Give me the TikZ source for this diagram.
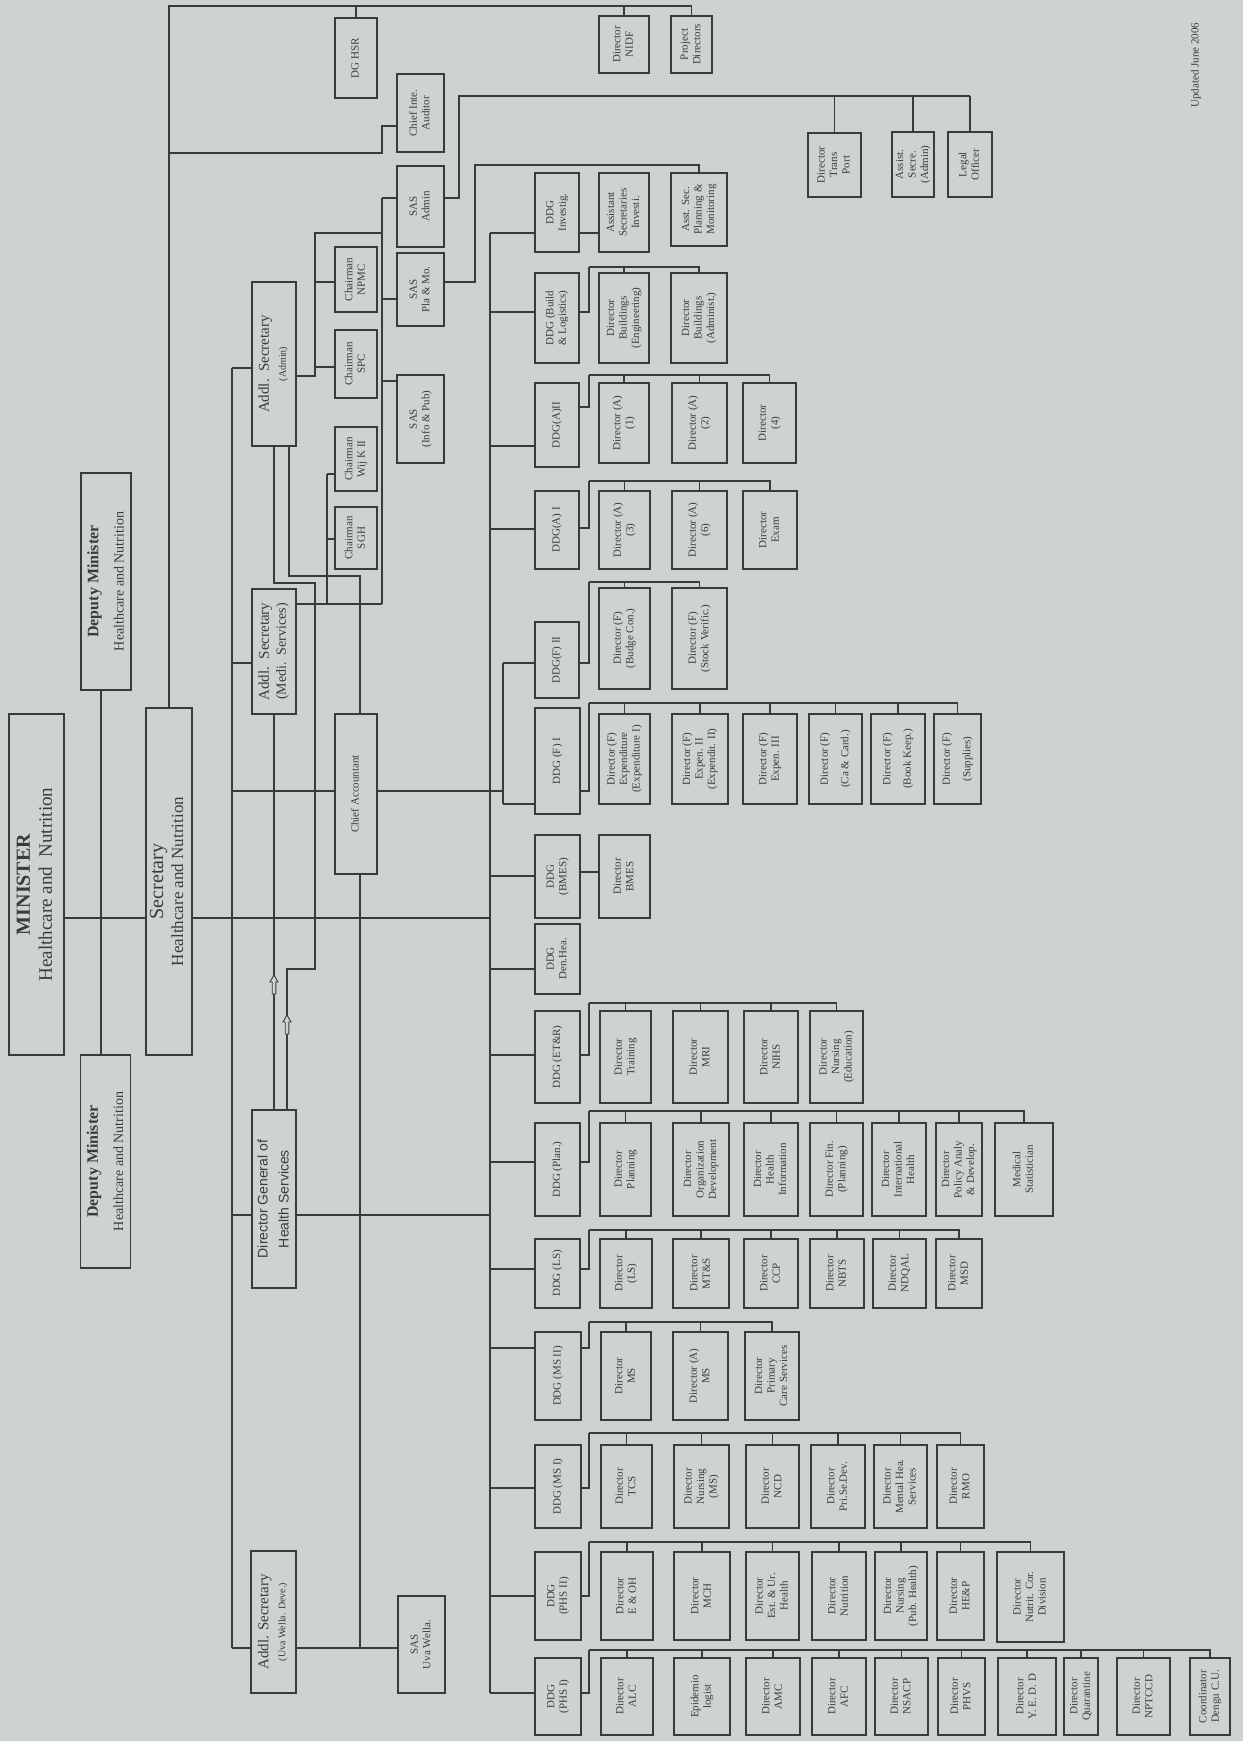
\documentclass[tikz,border=0pt]{standalone}
\usepackage{fontspec}
\setmainfont{Liberation Serif}
\newfontfamily\arialf{Liberation Sans}
\usepackage{graphicx}
\definecolor{bg}{RGB}{205,212,207}
\definecolor{ink}{RGB}{58,60,58}
\newcommand{\rtx}[1]{\rotatebox{90}{\begin{tabular}{@{}c@{}}#1\end{tabular}}}
\newcommand{\bxx}[7][]{%
  \node[box,#1,minimum width={(#5)-(#3)},minimum height={(#6)-(#4)}] (#2) at ({((#3)+(#5))/2},{((#4)+(#6))/2}) {\rtx{#7}};}
\newcommand{\famln}[4]{%
  \draw (#1.east |- 0,#2) -- (589,#2) -- (589,#3);
  \foreach \c in {#4} {\draw (\c.north) -- (\c.north |- 0,#3) -- (589,#3);}}
\newcommand{\harr}[2]{\draw[fill=bg, line width=0.9pt] (#1,#2) -- ++(4,7) -- ++(-2.2,0) -- ++(0,12) -- ++(-3.6,0) -- ++(0,-12) -- ++(-2.2,0) -- cycle;}
\begin{document}
\begin{tikzpicture}[x=1pt,y=-1pt,line width=1.2pt,draw=ink,
  box/.style={draw=ink,fill=bg,line width=1.3pt,inner sep=0pt,text=ink,font=\fontsize{11}{12.5}\selectfont}]
\fill[bg] (0,0) rectangle (1243,1741);
\useasboundingbox (0,0) rectangle (1243,1741);

% ---- top level
\bxx[font=\fontsize{19}{22}\selectfont]{min}{9}{714}{64}{1055}{{\bfseries\fontsize{20}{22}\selectfont MINISTER}\\Healthcare and\ \ Nutrition}
\bxx[font=\fontsize{17}{20}\selectfont]{sec}{146}{708}{192}{1055}{{\fontsize{20}{22}\selectfont Secretary}\\Healthcare and Nutrition}
\bxx[font=\fontsize{14}{25}\selectfont]{dm1}{83}{473}{129}{690}{{\bfseries\fontsize{16}{18}\selectfont Deputy Minister}\\Healthcare and Nutrition}
\bxx[font=\fontsize{14}{25}\selectfont]{dm2}{82}{1055}{129}{1268}{{\bfseries\fontsize{16}{18}\selectfont Deputy Minister}\\Healthcare and Nutrition}

% ---- second level
\bxx[font=\fontsize{15}{17}\selectfont]{adm}{252}{282}{296}{446}{Addl.\ \ Secretary\\{\fontsize{10}{11}\selectfont (Admin)}}
\bxx[font=\fontsize{15}{17}\selectfont]{medi}{252}{589}{296}{714}{Addl.\ \ Secretary\\{\fontsize{14}{15}\selectfont (Medi.\ \ Services)}}
\bxx[font=\arialf\fontsize{14}{21}\selectfont]{dghs}{252}{1110}{296}{1288}{Director General of\\Health Services}
\bxx[font=\fontsize{15}{17}\selectfont]{uva}{251}{1551}{296}{1693}{Addl. Secretary\\{\fontsize{10}{11}\selectfont (Uva Wella. Deve.)}}
\bxx{cacc}{335}{714}{377}{874}{Chief Accountant}
\bxx{sasuva}{398}{1596}{445}{1693}{SAS\\Uva Wella.}

\bxx{dghsr}{335}{18}{377}{98}{DG HSR}
\bxx{nidf}{599}{16}{649}{73}{Director\\NIDF}
\bxx{pd}{671}{16}{712}{73}{Project\\Directors}
\bxx{cia}{397}{74}{444}{152}{Chief Inte.\\Auditor}
\bxx{sasadm}{397}{166}{444}{247}{SAS\\Admin}
\bxx{saspla}{397}{253}{444}{326}{SAS\\Pla \& Mo.}
\bxx{sasinfo}{397}{375}{444}{463}{SAS\\(Info \& Pub)}
\bxx{npmc}{335}{247}{377}{312}{Chairman\\NPMC}
\bxx{spc}{335}{330}{377}{398}{Chairman\\SPC}
\bxx{wijk}{335}{427}{377}{491}{Chairman\\Wij K II}
\bxx{sgh}{335}{507}{377}{569}{Chairman\\SGH}
\bxx{tp}{808}{133}{861}{197}{Director\\Trans\\Port}
\bxx{asa}{892}{132}{934}{197}{Assist.\\Secre.\\(Admin)}
\bxx{lo}{948}{132}{992}{197}{Legal\\Officer}

% ---- DDGs
\bxx{ddginv}{535}{173}{579}{252}{DDG\\Investig.}
\bxx{ddgbl}{535}{273}{579}{363}{DDG (Build\\\& Logistics)}
\bxx{ddga2}{535}{383}{579}{467}{DDG(A)II}
\bxx{ddga1}{535}{491}{579}{569}{DDG(A) I}
\bxx{ddgf2}{535}{622}{579}{698}{DDG(F) II}
\bxx{ddgf1}{535}{708}{580}{814}{DDG (F) I}
\bxx{ddgbm}{535}{835}{580}{918}{DDG\\(BMES)}
\bxx{ddgdh}{535}{924}{580}{994}{DDG\\Den.Hea.}
\bxx{ddget}{535}{1011}{580}{1103}{DDG (ET\&R)}
\bxx{ddgpl}{535}{1123}{580}{1216}{DDG (Plan.)}
\bxx{ddgls}{535}{1239}{580}{1308}{DDG (LS)}
\bxx{ddgm2}{535}{1332}{581}{1420}{DDG (MS II)}
\bxx{ddgm1}{535}{1445}{581}{1528}{DDG (MS I)}
\bxx{ddgp2}{535}{1552}{581}{1640}{DDG\\(PHS II)}
\bxx{ddgp1}{535}{1658}{581}{1735}{DDG\\(PHS I)}

% ---- directors
\bxx{asi}{599}{173}{649}{252}{Assistant\\Secretaries\\Investi.}
\bxx{asp}{671}{173}{727}{246}{Asst. Sec.\\Planning \&\\Monitoring}
\bxx{dbe}{599}{273}{649}{363}{Director\\Buildings\\(Engineering)}
\bxx{dba}{671}{273}{727}{363}{Director\\Buildings\\(Administ.)}
\bxx{da1}{599}{383}{649}{463}{Director (A)\\(1)}
\bxx{da2}{672}{383}{727}{463}{Director (A)\\(2)}
\bxx{d4}{743}{383}{796}{463}{Director\\(4)}
\bxx{da3}{599}{491}{650}{569}{Director (A)\\(3)}
\bxx{da6}{672}{491}{727}{569}{Director (A)\\(6)}
\bxx{dex}{743}{491}{797}{569}{Director\\Exam}
\bxx{dfb}{599}{588}{650}{689}{Director (F)\\(Budge Con.)}
\bxx{dfs}{672}{588}{727}{689}{Director (F)\\(Stock Verific.)}
\bxx{dfe1}{599}{714}{650}{804}{Director (F)\\Expenditure\\(Expenditure I)}
\bxx{dfe2}{672}{714}{728}{804}{Director (F)\\Expen. II\\(Expendit. II)}
\bxx{dfe3}{743}{714}{797}{804}{Director (F)\\Expen. III}
\bxx{dfca}{809}{714}{862}{804}{Director (F)\\[8pt](Ca \& Card.)}
\bxx{dfbk}{871}{714}{925}{804}{Director (F)\\[8pt](Book Keep.)}
\bxx{dfsu}{934}{714}{981}{804}{Director (F)\\[8pt](Supplies)}
\bxx{dbm}{599}{835}{650}{918}{Director\\BMES}
\bxx{dtr}{600}{1011}{651}{1103}{Director\\Training}
\bxx{dmri}{673}{1011}{728}{1103}{Director\\MRI}
\bxx{dnihs}{744}{1011}{798}{1103}{Director\\NIHS}
\bxx{dned}{810}{1011}{863}{1103}{Director\\Nursing\\(Education)}
\bxx{dpl}{600}{1123}{651}{1216}{Director\\Planning}
\bxx{dod}{673}{1123}{729}{1216}{Director\\Organization\\Development}
\bxx{dhi}{744}{1123}{798}{1216}{Director\\Health\\Information}
\bxx{dfin}{810}{1123}{863}{1216}{Director Fin.\\(Planning)}
\bxx{dih}{872}{1123}{926}{1216}{Director\\International\\Health}
\bxx{dpa}{936}{1123}{982}{1216}{Director\\Policy Analy\\\& Develop.}
\bxx{dmst}{995}{1123}{1053}{1216}{Medical\\Statistician}
\bxx{dls}{600}{1239}{652}{1308}{Director\\(LS)}
\bxx{dmts}{673}{1239}{729}{1308}{Director\\MT\&S}
\bxx{dccp}{744}{1239}{798}{1308}{Director\\CCP}
\bxx{dnbts}{810}{1239}{864}{1308}{Director\\NBTS}
\bxx{dndq}{873}{1239}{926}{1308}{Director\\NDQAL}
\bxx{dmsd}{936}{1239}{982}{1308}{Director\\MSD}
\bxx{dms}{601}{1332}{651}{1420}{Director\\MS}
\bxx{dams}{673}{1332}{728}{1420}{Director (A)\\MS}
\bxx{dpcs}{745}{1332}{799}{1420}{Director\\Primary\\Care Services}
\bxx{dtcs}{601}{1445}{652}{1528}{Director\\TCS}
\bxx{dnms}{674}{1445}{729}{1528}{Director\\Nursing\\(MS)}
\bxx{dncd}{746}{1445}{799}{1528}{Director\\NCD}
\bxx{dpsd}{811}{1445}{865}{1528}{Director\\Pri.Se.Dev.}
\bxx{dmhs}{874}{1445}{927}{1528}{Director\\Mental Hea.\\Services}
\bxx{drmo}{937}{1445}{984}{1528}{Director\\RMO}
\bxx{deoh}{601}{1552}{653}{1640}{Director\\E \& OH}
\bxx{dmch}{674}{1552}{730}{1640}{Director\\MCH}
\bxx{deuh}{746}{1552}{799}{1640}{Director\\Est. \& Ur.\\Health}
\bxx{dnut}{812}{1552}{866}{1640}{Director\\Nutrition}
\bxx{dnph}{875}{1552}{927}{1640}{Director\\Nursing\\(Pub. Health)}
\bxx{dhep}{937}{1552}{984}{1640}{Director\\HE\&P}
\bxx{dncv}{997}{1552}{1064}{1642}{Director\\Nutrit. Cor.\\Division}
\bxx{dalc}{601}{1658}{653}{1735}{Director\\ALC}
\bxx{depi}{674}{1658}{730}{1735}{Epidemio\\logist}
\bxx{damc}{746}{1658}{800}{1735}{Director\\AMC}
\bxx{dafc}{812}{1658}{866}{1735}{Director\\AFC}
\bxx{dnsa}{875}{1658}{928}{1735}{Director\\NSACP}
\bxx{dphv}{938}{1658}{985}{1735}{Director\\PHVS}
\bxx{dyed}{998}{1658}{1056}{1735}{Director\\Y. E. D. D}
\bxx{dqua}{1064}{1658}{1098}{1735}{Director\\Quarantine}
\bxx{dnpt}{1117}{1658}{1170}{1735}{Director\\NPTCCD}
\bxx{dcdc}{1190}{1658}{1230}{1735}{Coordinator\\Dengu C.U.}

\node[text=ink,font=\fontsize{11}{12}\selectfont] (upd) at (1196,65) {\rotatebox{90}{Updated June 2006}};

% ---- connectors, top level
\draw (min.east |- 0,918) -- (sec.west |- 0,918);
\draw (sec.east |- 0,918) -- (490,918);
\draw (dm1.south -| 101,0) -- (dm2.north -| 101,0);
\draw (sec.north -| 169,0) -- (169,6) -- (pd.north |- 0,6);
\foreach \n in {dghsr,nidf,pd} \draw (\n.north) -- (\n.north |- 0,6);
\draw (169,153) -- (382,153) -- (382,126) -- (cia.west |- 0,126);
\draw (382,198) -- (382,604);
\foreach \n/\y in {sasadm/198,saspla/299,sasinfo/381} \draw (382,\y) -- (\n.west |- 0,\y);
\draw (adm.east |- 0,376) -- (315,376) -- (315,233) -- (382,233);
\foreach \n/\y in {npmc/282,spc/367} \draw (315,\y) -- (\n.west |- 0,\y);
\draw (medi.east |- 0,604) -- (382,604);
\draw (327,474) -- (327,604);
\foreach \n/\y in {wijk/474,sgh/539} \draw (327,\y) -- (\n.west |- 0,\y);
\draw (sasadm.east |- 0,198) -- (459,198) -- (459,96) -- (lo.north |- 0,96);
\foreach \n in {tp,asa,lo} \draw (\n.north) -- (\n.north |- 0,96);
\draw (saspla.east |- 0,282) -- (475,282) -- (475,165) -- (asp.north |- 0,165) -- (asp.north);

% ---- additional secretaries bus
\draw (232,368) -- (232,1648);
\foreach \n/\y in {adm/368,medi/663,dghs/1215,uva/1648} \draw (232,\y) -- (\n.west |- 0,\y);
\draw (232,791) -- (cacc.west |- 0,791);
\draw (cacc.east |- 0,791) -- (503,791);
\draw (503,663) -- (503,804);
\foreach \n/\y in {ddgf2/663,ddgf1/804} \draw (503,\y) -- (\n.west |- 0,\y);
\draw (adm.south -| 274,0) -- (274,583) -- (315,583) -- (315,969) -- (287,969) -- (dghs.north -| 287,0);
\draw (adm.south -| 289,0) -- (289,576) -- (360,576) -- (cacc.north -| 360,0);
\draw (medi.south -| 274,0) -- (dghs.north -| 274,0);
\draw (cacc.south -| 360,0) -- (360,1648);
\draw (uva.east |- 0,1648) -- (sasuva.west |- 0,1648);
\draw (dghs.east |- 0,1215) -- (490,1215);
\harr{274}{975}
\harr{287}{1015}

% ---- DDG bus
\draw (490,233) -- (490,1693);
\foreach \n/\y in {ddginv/233,ddgbl/312,ddga2/446,ddga1/529,ddgbm/876,ddgdh/969,ddget/1055,ddgpl/1162,ddgls/1269,ddgm2/1348,ddgm1/1488,ddgp2/1596,ddgp1/1693}
  \draw (490,\y) -- (\n.west |- 0,\y);

% ---- DDG families
\draw (ddginv.east |- 0,233) -- (asi.west |- 0,233);
\draw (ddgbm.east |- 0,872) -- (dbm.west |- 0,872);
\famln{ddgbl}{312}{267}{dbe,dba}
\famln{ddga2}{407}{375}{da1,da2,d4}
\famln{ddga1}{528}{481}{da3,da6,dex}
\famln{ddgf2}{663}{582}{dfb,dfs}
\famln{ddgf1}{791}{703}{dfe1,dfe2,dfe3,dfca,dfbk,dfsu}
\famln{ddget}{1055}{1003}{dtr,dmri,dnihs,dned}
\famln{ddgpl}{1162}{1111}{dpl,dod,dhi,dfin,dih,dpa,dmst}
\famln{ddgls}{1269}{1230}{dls,dmts,dccp,dnbts,dndq,dmsd}
\famln{ddgm2}{1348}{1322}{dms,dams,dpcs}
\famln{ddgm1}{1488}{1433}{dtcs,dnms,dncd,dpsd,dmhs,drmo}
\famln{ddgp2}{1596}{1542}{deoh,dmch,deuh,dnut,dnph,dhep,dncv}
\famln{ddgp1}{1693}{1650}{dalc,depi,damc,dafc,dnsa,dphv,dyed,dqua,dnpt,dcdc}
\end{tikzpicture}
\end{document}
